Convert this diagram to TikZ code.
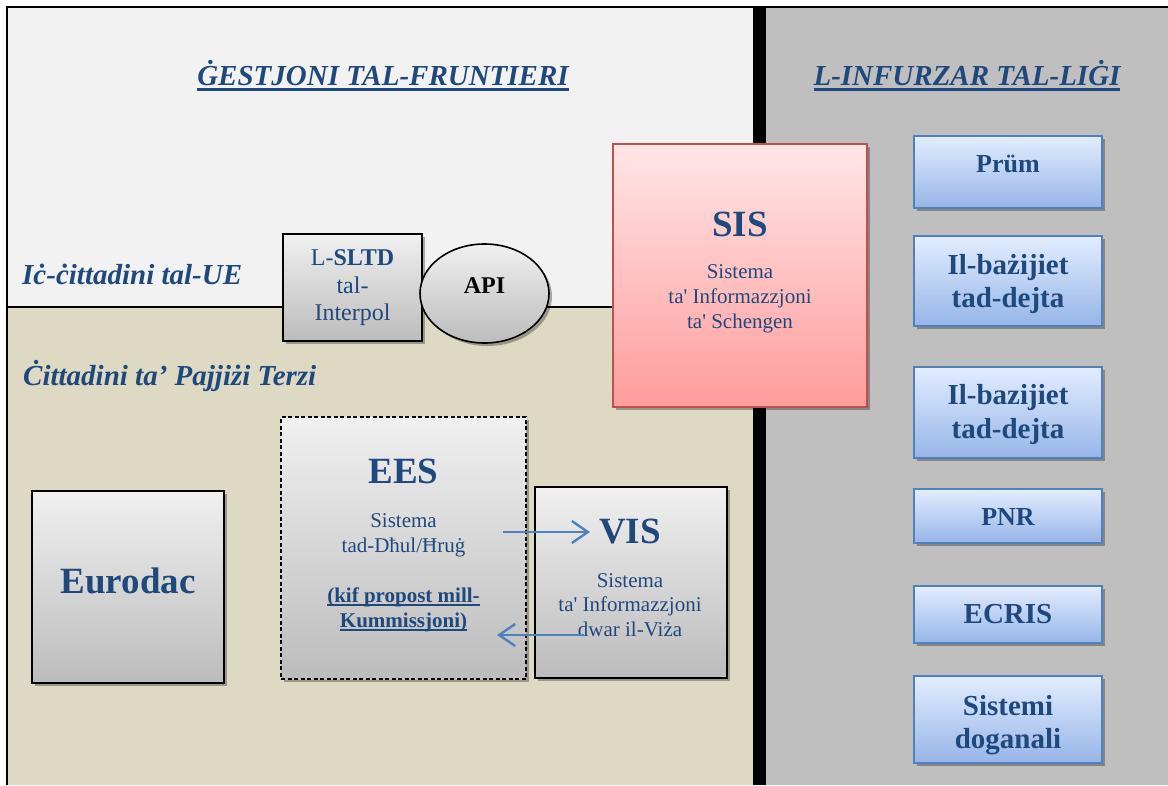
\documentclass[tikz,border=0pt]{standalone}
\usepackage{fontspec}
\setmainfont{Liberation Serif}[Ligatures=TeXOff]
\usetikzlibrary{shadows,arrows.meta,shapes.geometric}
\newcommand{\myuline}[3]{\setbox0\hbox{#3}\rlap{\copy0}\rule[-#1]{\wd0}{#2}}
\definecolor{txtblue}{HTML}{1F497D}
\definecolor{topbg}{HTML}{F2F2F2}
\definecolor{beige}{HTML}{DDD9C3}
\definecolor{rightbg}{HTML}{BFBFBF}
\definecolor{greytop}{HTML}{F0F0F0}
\definecolor{greybot}{HTML}{BCBCBC}
\definecolor{redtop}{HTML}{FFE6E6}
\definecolor{redbot}{HTML}{FF9C9C}
\definecolor{redline}{HTML}{C0504D}
\definecolor{bluetop}{HTML}{E2EDFF}
\definecolor{bluebot}{HTML}{96B5E8}
\definecolor{blueline}{HTML}{4F81BD}
\tikzset{
  shade/.style={drop shadow={shadow xshift=3pt,shadow yshift=-3pt,opacity=0.3,fill=black}},
  greybox/.style={rectangle,draw=black,line width=1.6pt,top color=greytop,bottom color=greybot,shade,inner sep=0pt},
  sisbox/.style={rectangle,draw=redline,line width=1.8pt,top color=redtop,bottom color=redbot,shade,inner sep=0pt},
  bluebox/.style={rectangle,draw=blueline,line width=1.8pt,top color=bluetop,bottom color=bluebot,shade,inner sep=0pt,minimum width=188pt},
  txt/.style={anchor=base,inner sep=0pt,text=txtblue},
  head/.style={txt,font=\fontsize{29pt}{34pt}\selectfont\bfseries\itshape},
  big/.style={txt,font=\fontsize{37pt}{42pt}\selectfont\bfseries},
  small/.style={txt,font=\fontsize{21pt}{25pt}\selectfont},
  bl/.style={txt,font=\fontsize{29pt}{33pt}\selectfont\bfseries},
  bls/.style={txt,font=\fontsize{26pt}{30pt}\selectfont\bfseries},
  arr/.style={draw=blueline,line width=2.4pt,-{Straight Barb[length=16pt,width=22pt]}},
}
\begin{document}
\begin{tikzpicture}[x=1pt,y=-1pt]
\useasboundingbox (0,0) rectangle (1168,785);
% backgrounds
\fill[topbg] (7,7) rectangle (753,307);
\fill[beige] (7,307) rectangle (753,785);
\fill[rightbg] (766,7) rectangle (1168,785);
\fill[black] (753,7) rectangle (766,785);
\draw[line width=2pt] (7,785) -- (7,7) -- (1168,7);
\draw[line width=2pt] (7,307) -- (753,307);
% headings
\node[head] (t1) at (383,85) {\myuline{5.5pt}{2.5pt}{ĠESTJONI TAL-FRUNTIERI}};
\node[head] (t2) at (967,85) {\myuline{5.5pt}{2.5pt}{L-INFURZAR TAL-LIĠI}};
\node[head,anchor=base west] (eu) at (22,284) {Iċ-ċittadini tal-UE};
\node[head,anchor=base west] (tc) at (23,385) {Ċittadini ta’ Pajjiżi Terzi};
% SLTD and API
\node[greybox,minimum width=139pt,minimum height=107pt] (sltd) at (352.5,287.5) {};
\node[txt,font=\fontsize{24pt}{27pt}\selectfont] (sltd1) at (352.5,265.5) {L-\textbf{SLTD}};
\node[txt,font=\fontsize{24pt}{27pt}\selectfont] (sltd2) at (352.5,293) {tal-};
\node[txt,font=\fontsize{24pt}{27pt}\selectfont] (sltd3) at (352.5,320) {Interpol};
\node[ellipse,draw=black,line width=1.6pt,top color=greytop,bottom color=greybot,shade,inner sep=0pt,minimum width=129pt,minimum height=99pt] (api) at (484.5,293.5) {};
\node[txt,text=black,font=\fontsize{24pt}{27pt}\selectfont\bfseries] (apit) at (484.5,293) {API};
% SIS
\node[sisbox,minimum width=254pt,minimum height=263pt] (sis) at (740,275.5) {};
\node[big] (sist) at (740,236) {SIS};
\node[small] (sis1) at (740,278) {Sistema};
\node[small] (sis2) at (740,303) {ta' Informazzjoni};
\node[small] (sis3) at (740,328) {ta' Schengen};
% Eurodac
\node[greybox,minimum width=192pt,minimum height=192pt] (eurodac) at (128,587) {};
\node[big] (eurodact) at (128,593) {Eurodac};
% EES
\node[greybox,dash pattern=on 4pt off 2.5pt,minimum width=245pt,minimum height=262pt] (ees) at (403.5,548) {};
\node[big] (eest) at (403.5,483) {EES};
\node[small] (ees1) at (403.5,527) {Sistema};
\node[small] (ees2) at (403.5,552) {tad-Dħul/Ħruġ};
\node[small,font=\fontsize{21pt}{25pt}\selectfont\bfseries] (ees3) at (403.5,602) {\myuline{4pt}{1.8pt}{(kif propost mill-}};
\node[small,font=\fontsize{21pt}{25pt}\selectfont\bfseries] (ees4) at (403.5,627) {\myuline{4pt}{1.8pt}{Kummissjoni)}};
% VIS
\node[greybox,minimum width=192pt,minimum height=191pt] (vis) at (631,582.5) {};
\node[big] (vist) at (630,543) {VIS};
\node[small] (vis1) at (630,587) {Sistema};
\node[small] (vis2) at (630,611) {ta' Informazzjoni};
\node[small] (vis3) at (630,636) {dwar il-Viża};
% right column
\node[bluebox,minimum height=72pt] (prum) at (1008,172) {};
\node[bls] (prumt) at (1008,172) {Prüm};
\node[bluebox,minimum height=90pt] (db1) at (1008,281) {};
\node[bl] (db1a) at (1008,274) {Il-bażijiet};
\node[bl] (db1b) at (1008,307) {tad-dejta};
\node[bluebox,minimum height=91pt] (db2) at (1008,412.5) {};
\node[bl] (db2a) at (1008,404) {Il-bazijiet};
\node[bl] (db2b) at (1008,438) {tad-dejta};
\node[bluebox,minimum height=54pt] (pnr) at (1008,516) {};
\node[bls] (pnrt) at (1008,525) {PNR};
\node[bluebox,minimum height=57pt] (ecris) at (1008,614.5) {};
\node[bl] (ecrist) at (1008,623) {ECRIS};
\node[bluebox,minimum height=87pt] (dog) at (1008,719.5) {};
\node[bl] (doga) at (1008,715) {Sistemi};
\node[bl] (dogb) at (1008,748) {doganali};
% arrows between EES and VIS
\coordinate (a1s) at (503,532);
\coordinate (a1e) at (590,532);
\coordinate (a2s) at (584,635);
\coordinate (a2e) at (497,635);
\draw[arr] (a1s) -- (a1e);
\draw[arr] (a2s) -- (a2e);
\end{tikzpicture}
\end{document}
